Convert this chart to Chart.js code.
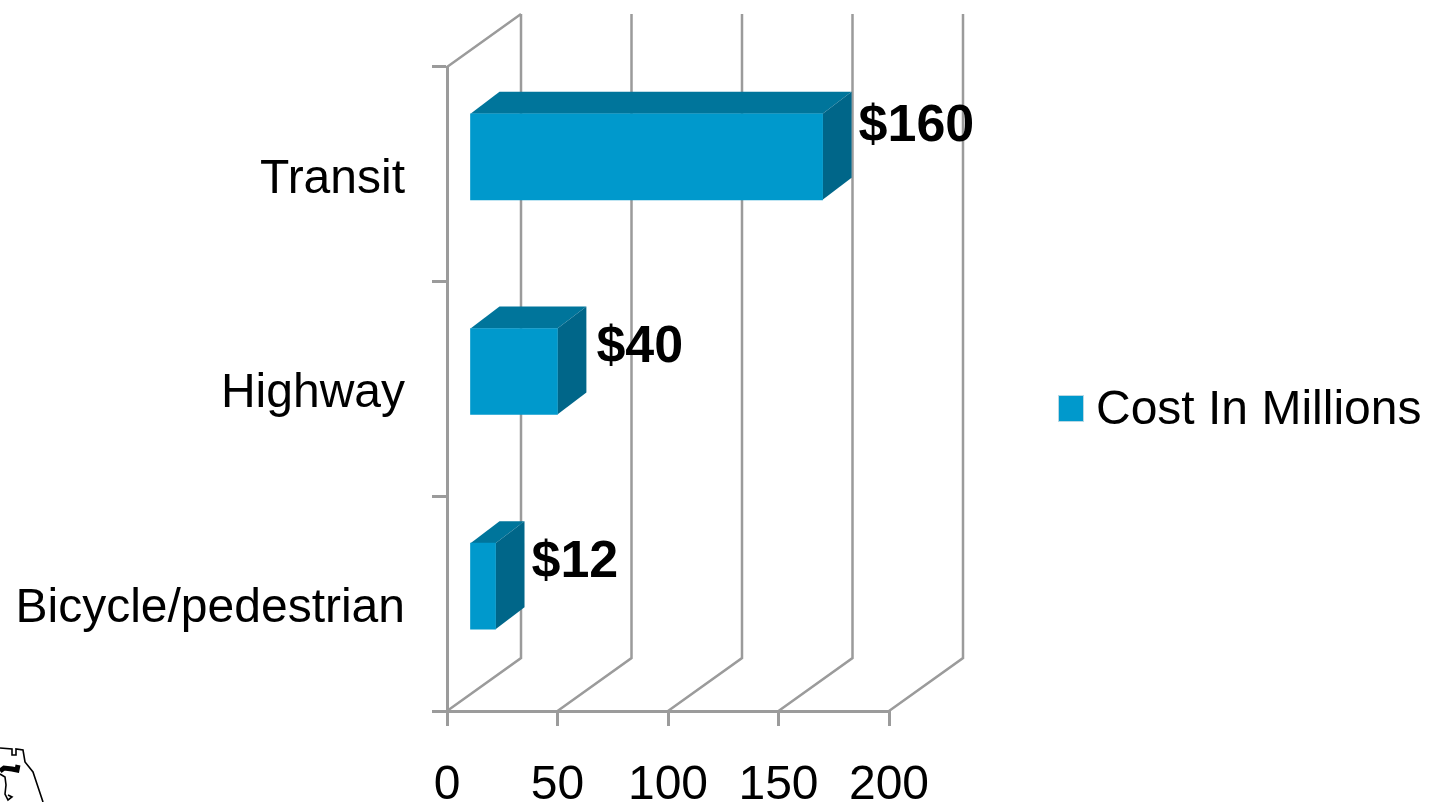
<!DOCTYPE html>
<html>
<head>
<meta charset="utf-8">
<title>Cost In Millions</title>
<script src="https://cdn.jsdelivr.net/npm/chart.js@4"></script>
<style>
    html, body { margin: 0; padding: 0; background: #fff; overflow: hidden; }
    #wrap { position: relative; width: 1429px; height: 802px; }
    #scribble { position: absolute; left: 0; top: 742px; }
</style>
</head>
<body>
<div id="wrap">
    <canvas id="myChart" width="1429" height="802"></canvas>
    <svg id="scribble" width="50" height="60" fill="none" stroke="#000" stroke-width="1.6">
        <path d="M0 6 L12 7 L12 13 L16 13 L16 7 L23 8 L25 20 L33 30 L37 42 L43 60" />
        <path d="M0 29 L4 26 L12 27 L17 28 L18 23" stroke-width="5" />
        <path d="M0 32 L5 35 L6 43 L5 52 L8 58 L12 55 L8 53" />
    </svg>
</div>
<script>
const categories = ["Transit", "Highway", "Bicycle/pedestrian"];
const costValues = [160, 40, 12];
const costLabels = ["$160", "$40", "$12"];
const xTicks = [0, 50, 100, 150, 200];
const seriesName = "Cost In Millions";

const FRONT = "#0099cc";
const TOP = "#00759b";
const SIDE = "#006689";
const GRID = "#9b9b9b";

// depth of the back wall and of the bars, in pixels
const wallDx = 74, wallDy = -53;
const barDx = 29, barDy = -22;
const barShiftX = 22, barShiftY = -17.5;
// value labels are not placed quite the same way on each bar
const labelNudgeX = [36, 39, 36];
const labelNudgeY = [-30, -24, -24];

function face(ctx, color, pts) {
    ctx.fillStyle = color;
    ctx.beginPath();
    ctx.moveTo(pts[0][0], pts[0][1]);
    pts.slice(1).forEach(p => ctx.lineTo(p[0], p[1]));
    ctx.closePath();
    ctx.fill();
}

const fake3d = {
    id: "fake3d",
    // floor and back wall
    beforeDatasetsDraw(chart) {
        const { ctx, chartArea, scales } = chart;
        ctx.save();
        ctx.strokeStyle = GRID;
        ctx.lineWidth = 2.5;
        ctx.beginPath();
        xTicks.forEach(t => {
            const x = scales.x.getPixelForValue(t);
            ctx.moveTo(x, chartArea.bottom);
            ctx.lineTo(x + wallDx, chartArea.bottom + wallDy);
            ctx.lineTo(x + wallDx, chartArea.top + wallDy);
        });
        ctx.moveTo(chartArea.left, chartArea.top);
        ctx.lineTo(chartArea.left + wallDx, chartArea.top + wallDy);
        ctx.stroke();
        ctx.restore();
    },
    // bars sit a little behind the front plane, top and side faces go first
    beforeDatasetDraw(chart, args) {
        const ctx = chart.ctx;
        ctx.save();
        ctx.translate(barShiftX, barShiftY);
        args.meta.data.forEach(bar => {
            const top = bar.y - bar.height / 2;
            const bottom = bar.y + bar.height / 2;
            face(ctx, TOP, [[bar.base, top], [bar.x, top], [bar.x + barDx, top + barDy], [bar.base + barDx, top + barDy]]);
            face(ctx, SIDE, [[bar.x, top], [bar.x + barDx, top + barDy], [bar.x + barDx, bottom + barDy], [bar.x, bottom]]);
        });
    },
    afterDatasetDraw(chart, args) {
        const ctx = chart.ctx;
        ctx.restore();

        // value labels
        ctx.save();
        ctx.font = "bold 52px 'Liberation Sans'";
        ctx.fillStyle = "#000";
        ctx.textAlign = "left";
        ctx.textBaseline = "middle";
        args.meta.data.forEach((bar, i) => {
            ctx.fillText(costLabels[i], bar.x + barShiftX + labelNudgeX[i], bar.y + barShiftY + labelNudgeY[i]);
        });
        ctx.restore();
    },
    // legend on the right, the chart area leaves it room
    afterDraw(chart) {
        const ctx = chart.ctx;
        ctx.save();
        ctx.fillStyle = FRONT;
        ctx.strokeStyle = "#b8d8e4";
        ctx.lineWidth = 1;
        ctx.fillRect(1059, 396, 24, 25);
        ctx.strokeRect(1058.5, 395.5, 25, 26);
        ctx.fillStyle = "#000";
        ctx.font = "48px 'Liberation Sans'";
        ctx.textAlign = "left";
        ctx.textBaseline = "middle";
        ctx.fillText(chart.data.datasets[0].label, 1096, 411);
        ctx.restore();
    }
};

new Chart(document.getElementById("myChart"), {
    type: "bar",
    data: {
        labels: categories,
        datasets: [{
            label: seriesName,
            data: costValues,
            backgroundColor: FRONT,
            barThickness: 86,
            clip: false
        }]
    },
    plugins: [fake3d],
    options: {
        indexAxis: "y",
        responsive: false,
        animation: false,
        layout: { padding: { top: 67, right: 540, bottom: 0, left: 0 } },
        plugins: {
            legend: { display: false },
            tooltip: { enabled: false }
        },
        scales: {
            x: {
                min: 0,
                max: 200,
                afterBuildTicks(scale) { scale.ticks = xTicks.map(v => ({ value: v })); },
                afterFit(scale) { scale.height = 91; },
                border: { color: GRID, width: 3 },
                grid: { drawOnChartArea: false, color: GRID, lineWidth: 3, tickLength: 15 },
                ticks: {
                    color: "#000",
                    maxRotation: 0,
                    padding: 31,
                    font: { family: "'Liberation Sans'", size: 48 }
                }
            },
            y: {
                afterFit(scale) { scale.width = 447; },
                border: { color: GRID, width: 3 },
                grid: { drawOnChartArea: false, color: GRID, lineWidth: 3, tickLength: 15 },
                ticks: {
                    color: "#000",
                    padding: 27,
                    labelOffset: 5,
                    font: { family: "'Liberation Sans'", size: 48 }
                }
            }
        }
    }
});
</script>
</body>
</html>
